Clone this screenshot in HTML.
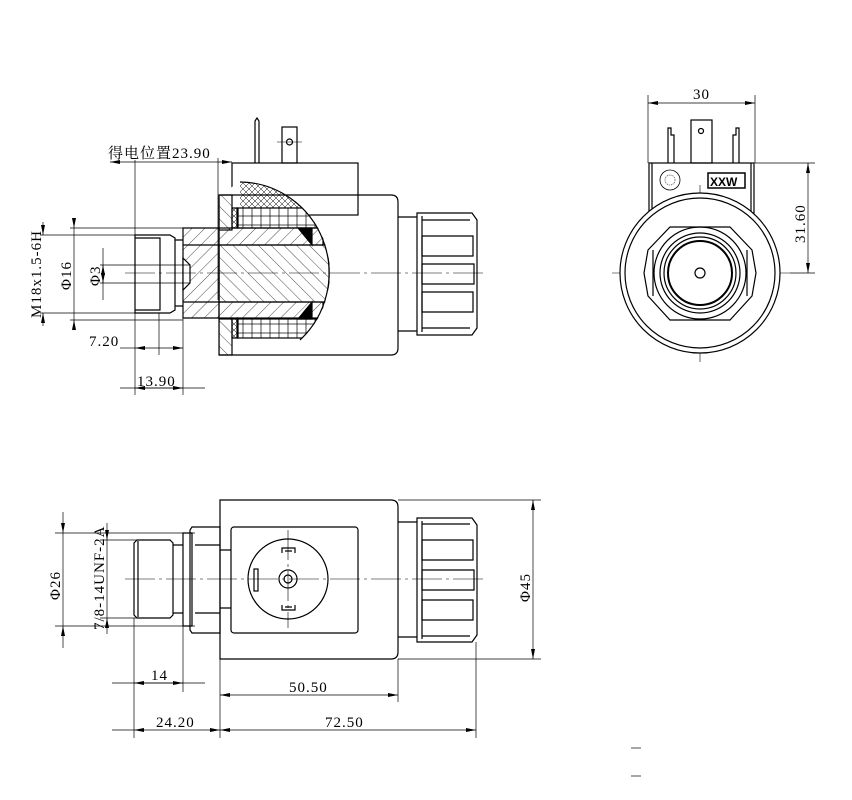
<!DOCTYPE html>
<html><head><meta charset="utf-8"><style>
html,body{margin:0;padding:0;background:#fff}
svg{display:block}
text{font-family:"Liberation Serif","Noto Serif CJK SC",serif;font-size:15px;fill:#000;letter-spacing:1px}
</style></head><body>
<svg width="852" height="800" viewBox="0 0 852 800" xmlns="http://www.w3.org/2000/svg">
<defs>
<pattern id="h1" width="9" height="9" patternUnits="userSpaceOnUse" patternTransform="rotate(45)"><line x1="0" y1="0" x2="0" y2="9" stroke="#000" stroke-width="0.7"/></pattern>
<pattern id="h2" width="9" height="9" patternUnits="userSpaceOnUse" patternTransform="rotate(-45)"><line x1="0" y1="0" x2="0" y2="9" stroke="#000" stroke-width="0.7"/></pattern>
<pattern id="grid" width="9" height="9" patternUnits="userSpaceOnUse"><rect width="9" height="9" fill="none" stroke="#000" stroke-width="0.7"/></pattern>
<pattern id="xx" width="6" height="6" patternUnits="userSpaceOnUse"><path d="M0 0L6 6M6 0L0 6" stroke="#000" stroke-width="0.5"/></pattern>
<marker id="a" viewBox="0 0 10 4" refX="10" refY="2" markerWidth="10" markerHeight="4" orient="auto-start-reverse" markerUnits="userSpaceOnUse"><path d="M0 0L10 2L0 4z" fill="#000"/></marker>
<clipPath id="dome"><path d="M219 195 L240 182 A90 91 0 0 1 240 364 L219 364 Z"/></clipPath>
</defs>
<g fill="none" stroke="#000" stroke-width="1.2">
<path d="M255 163 V121 L257 118 L259 121 V163"/>
<rect x="282" y="127" width="15" height="36"/>
<circle cx="289.5" cy="142" r="3"/>
<line x1="277" y1="142" x2="302" y2="142" stroke-width="0.6"/>
<rect x="232" y="163" width="126" height="52"/>
<g clip-path="url(#dome)">
<rect x="219" y="180" width="100" height="180" fill="#fff" stroke="none"/>
<rect x="240" y="183" width="70" height="25" fill="url(#xx)" stroke="none"/>
<rect x="237" y="208" width="85" height="20" fill="url(#grid)"/>
<rect x="237" y="318" width="85" height="20" fill="url(#grid)"/>
<rect x="232" y="208" width="6" height="20" fill="url(#xx)"/>
<rect x="232" y="318" width="6" height="20" fill="url(#xx)"/>
<rect x="219" y="195" width="13" height="35" fill="url(#h2)"/>
<rect x="219" y="318" width="13" height="37" fill="url(#h2)"/>
<rect x="183" y="228" width="140" height="17" fill="url(#h1)"/>
<rect x="183" y="302" width="140" height="17" fill="url(#h1)"/>
<rect x="219" y="245" width="110" height="57" fill="url(#h2)"/>
<path d="M298 228 L312 228 L312 245 Z M298 319 L312 319 L312 302 Z" fill="#000"/>
</g>
<path d="M240 182 A90 91 0 0 1 300 340"/>
<path d="M219 195 H391 Q398 195 398 202 V348 Q398 355 391 355 H219 Z"/>
<path d="M183 228 H219 V318 H183 Z" fill="url(#h1)"/>
<path d="M183 245 H219 M183 302 H219"/>
<path d="M183 258 L190 265 V283 L183 290 Z" fill="#fff"/>
<path d="M135 235 H170 L175 238 V310 L170 313 H135 Z"/>
<path d="M135 238 H160 V310 H135" />
<path d="M175 240 H183 M175 306 H183"/>
<path d="M398 217 H417 M398 331 H417"/>
<path d="M417 213 H472 L477 220 V328 L472 335 H417 Z"/>
<path d="M422 220 H470 M422 328 H470"/>
<path d="M422 236 H473 V256 H422 Z M422 264 H474 V284 H422 Z M422 292 H473 V312 H422 Z"/>
<path d="M422 216 V332"/>
</g>
<g stroke="#000" stroke-width="0.6" fill="none" stroke-dasharray="30 4 3 4">
<line x1="125" y1="273" x2="485" y2="273"/>
<line x1="612" y1="273" x2="790" y2="273"/>
<line x1="700" y1="185" x2="700" y2="362"/>
<line x1="125" y1="579" x2="487" y2="579"/>
<line x1="288" y1="530" x2="288" y2="628"/>
</g>
<g stroke="#000" stroke-width="0.7" fill="none">
<line x1="135" y1="160" x2="135" y2="395"/>
<line x1="218" y1="158" x2="218" y2="300"/>
<line x1="110" y1="162" x2="232" y2="162" marker-start="url(#a)" marker-end="url(#a)"/>
<line x1="40" y1="235" x2="135" y2="235"/><line x1="40" y1="313" x2="135" y2="313"/>
<line x1="43" y1="222" x2="43" y2="235" marker-end="url(#a)"/><line x1="43" y1="326" x2="43" y2="313" marker-end="url(#a)"/>
<line x1="70" y1="228" x2="183" y2="228"/><line x1="70" y1="320" x2="183" y2="320"/>
<line x1="74" y1="222" x2="74" y2="228" marker-end="url(#a)"/><line x1="74" y1="326" x2="74" y2="320" marker-end="url(#a)"/>
<line x1="74" y1="228" x2="74" y2="320"/>
<line x1="100" y1="265" x2="190" y2="265"/><line x1="100" y1="283" x2="190" y2="283"/>
<line x1="103" y1="265" x2="103" y2="283" marker-start="url(#a)" marker-end="url(#a)"/>
<line x1="103" y1="248" x2="103" y2="300"/>
<line x1="159" y1="313" x2="159" y2="355"/>
<line x1="183" y1="313" x2="183" y2="395"/>
<line x1="120" y1="348" x2="135" y2="348"/>
<line x1="135" y1="348" x2="183" y2="348" marker-start="url(#a)" marker-end="url(#a)"/>
<line x1="120" y1="388" x2="205" y2="388"/>
<line x1="135" y1="388" x2="183" y2="388" marker-start="url(#a)" marker-end="url(#a)"/>
</g>
<text x="108" y="158">得电位置23.90</text>
<text x="89" y="346">7.20</text>
<text x="137" y="386">13.90</text>
<text transform="translate(41,318) rotate(-90)" font-size="14">M18x1.5-6H</text>
<text transform="translate(71,290) rotate(-90)">Φ16</text>
<text transform="translate(100,286) rotate(-90)">Φ3</text>

<g fill="none" stroke="#000" stroke-width="1.2">
<rect x="691" y="120" width="21" height="43"/>
<circle cx="701" cy="131" r="2.5"/>
<path d="M668 163 V128 H671 V135 H674 V163 M733 163 V135 H736 V128 H739 V163"/>
<rect x="649" y="163" width="105" height="50"/>
<line x1="652" y1="163" x2="652" y2="213"/><line x1="751" y1="163" x2="751" y2="213"/>
<circle cx="700" cy="273" r="80" fill="#fff"/>
<circle cx="700" cy="273" r="75"/>
<path d="M670 227 H730 L752 250 L756 273 L752 296 L730 320 H670 L648 296 L644 273 L648 250 Z"/>
<path d="M653 250 V296 M747 250 V296"/>
<circle cx="700" cy="273" r="46"/>
<circle cx="700" cy="273" r="40"/>
<circle cx="700" cy="273" r="36"/>
<circle cx="700" cy="273" r="32" stroke-width="2"/>
<circle cx="700" cy="273" r="5"/>
<circle cx="670" cy="180" r="10" stroke-width="0.8"/>
<circle cx="670" cy="180" r="5" stroke-width="0.6" stroke-dasharray="1 1"/>
<rect x="708" y="173" width="37" height="15" stroke-width="1.5"/>
</g>
<text x="710" y="186" style="font-family:'Liberation Sans',sans-serif;font-weight:bold;font-size:12px;letter-spacing:0">XXW</text>
<g stroke="#000" stroke-width="0.7" fill="none">
<line x1="648" y1="95" x2="648" y2="163"/><line x1="755" y1="95" x2="755" y2="163"/>
<line x1="648" y1="103" x2="755" y2="103" marker-start="url(#a)" marker-end="url(#a)"/>
<line x1="755" y1="163" x2="815" y2="163"/><line x1="790" y1="273" x2="815" y2="273"/>
<line x1="808" y1="163" x2="808" y2="273" marker-start="url(#a)" marker-end="url(#a)"/>
</g>
<text x="693" y="99">30</text>
<text transform="translate(805,243) rotate(-90)">31.60</text>

<g fill="none" stroke="#000" stroke-width="1.2">
<path d="M220 500 H391 Q398 500 398 507 V652 Q398 659 391 659 H220 Z"/>
<rect x="231" y="527" width="127" height="106" rx="3"/>
<circle cx="288" cy="579" r="40"/>
<circle cx="288" cy="579" r="9"/><circle cx="288" cy="579" r="4"/>
<path d="M282 553 V548 H295 V553 M282 605 V610 H295 V605"/>
<path d="M285 551 H292 M285 607 H292"/>
<rect x="254" y="569" width="4" height="22"/>
<path d="M220 550 H231 M220 608 H231"/>
<path d="M192 527 H220 V633 H192 L190 630 V530 Z"/>
<path d="M195 545 H220 M195 613 H220"/>
<path d="M183 533 H192 V626 H183 Z"/>
<path d="M173 545 H183 M173 613 H183"/>
<path d="M137 540 H170 L173 543 V615 L170 618 H137 L134 615 V543 Z"/>
<line x1="138" y1="541" x2="138" y2="617"/>
<path d="M398 522 H417 M398 637 H417"/>
<path d="M417 518 H472 L477 525 V635 L472 642 H417 Z"/>
<path d="M422 540 H473 V560 H422 Z M422 570 H474 V590 H422 Z M422 600 H473 V620 H422 Z"/>
<path d="M422 524 H470 M422 636 H470 M422 521 V639"/>
</g>
<g stroke="#000" stroke-width="0.7" fill="none">
<line x1="398" y1="500" x2="541" y2="500"/><line x1="398" y1="659" x2="541" y2="659"/>
<line x1="533" y1="500" x2="533" y2="659" marker-start="url(#a)" marker-end="url(#a)"/>
<line x1="55" y1="533" x2="195" y2="533"/><line x1="55" y1="626" x2="195" y2="626"/>
<line x1="63" y1="512" x2="63" y2="533" marker-end="url(#a)"/><line x1="63" y1="648" x2="63" y2="626" marker-end="url(#a)"/>
<line x1="63" y1="533" x2="63" y2="626"/>
<line x1="100" y1="540" x2="137" y2="540"/><line x1="100" y1="618" x2="137" y2="618"/>
<line x1="107" y1="523" x2="107" y2="540" marker-end="url(#a)"/><line x1="107" y1="634" x2="107" y2="618" marker-end="url(#a)"/>
<line x1="107" y1="540" x2="107" y2="618"/>
<line x1="134" y1="618" x2="134" y2="738"/>
<line x1="183" y1="626" x2="183" y2="692"/>
<line x1="220" y1="659" x2="220" y2="738"/>
<line x1="398" y1="659" x2="398" y2="702"/>
<line x1="476" y1="642" x2="476" y2="738"/>
<line x1="112" y1="683" x2="205" y2="683"/>
<line x1="134" y1="683" x2="183" y2="683" marker-start="url(#a)" marker-end="url(#a)"/>
<line x1="220" y1="695" x2="398" y2="695" marker-start="url(#a)" marker-end="url(#a)"/>
<line x1="112" y1="730" x2="134" y2="730"/>
<line x1="134" y1="730" x2="220" y2="730" marker-start="url(#a)" marker-end="url(#a)"/>
<line x1="220" y1="730" x2="476" y2="730" marker-start="url(#a)" marker-end="url(#a)"/>
<line x1="631" y1="748" x2="641" y2="748"/><line x1="631" y1="776" x2="641" y2="776"/>
</g>
<text x="151" y="680">14</text>
<text x="289" y="692">50.50</text>
<text x="156" y="727">24.20</text>
<text x="325" y="727">72.50</text>
<text transform="translate(60,600) rotate(-90)">Φ26</text>
<text transform="translate(104,630) rotate(-90)" font-size="14">7/8-14UNF-2A</text>
<text transform="translate(530,602) rotate(-90)">Φ45</text>
</svg>
</body></html>
